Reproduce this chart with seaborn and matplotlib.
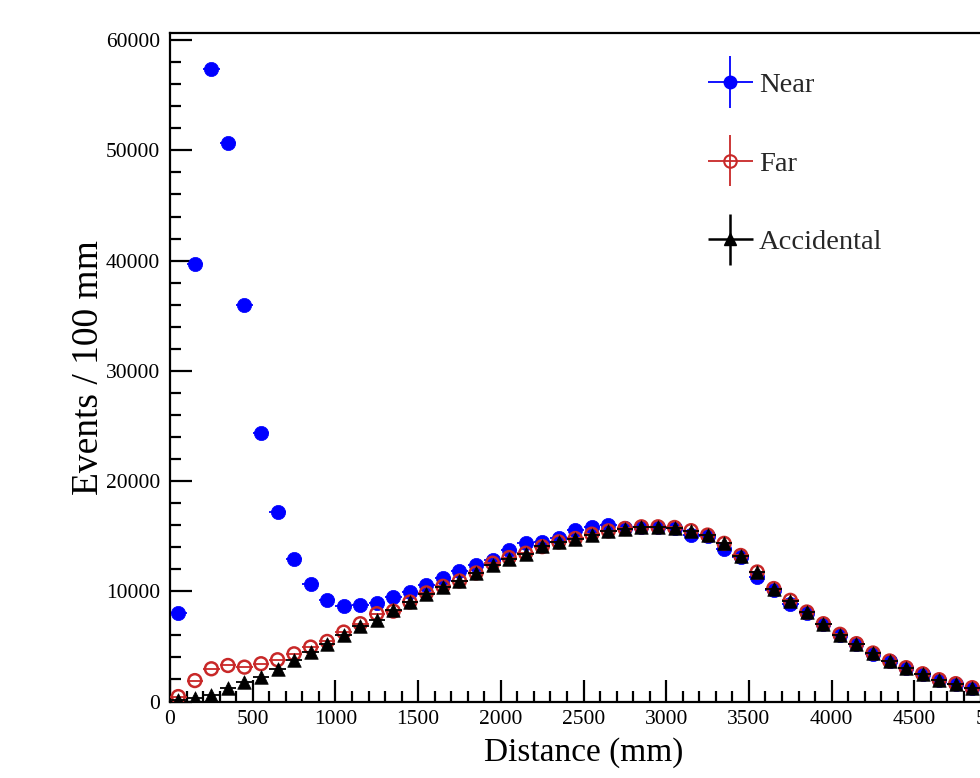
import numpy as np
import pandas as pd
import matplotlib
matplotlib.use("Agg")
import matplotlib.pyplot as plt
import seaborn as sns
from matplotlib.container import ErrorbarContainer
from matplotlib.legend_handler import HandlerErrorbar

distance = [50, 150, 250, 350, 450, 550, 650, 750, 850, 950,
            1050, 1150, 1250, 1350, 1450, 1550, 1650, 1750, 1850, 1950,
            2050, 2150, 2250, 2350, 2450, 2550, 2650, 2750, 2850, 2950,
            3050, 3150, 3250, 3350, 3450, 3550, 3650, 3750, 3850, 3950,
            4050, 4150, 4250, 4350, 4450, 4550, 4650, 4750, 4850, 4950]
bin_half_width = 50

near = [8000, 39700, 57400, 50700, 35950, 24350, 17220, 12930, 10630, 9210,
        8690, 8750, 8960, 9450, 9960, 10570, 11200, 11860, 12380, 12880,
        13750, 14400, 14500, 14800, 15550, 15850, 16000, 15750, 15850, 15850,
        15750, 15090, 15000, 13880, 13150, 11300, 10150, 8880, 8050, 7000,
        6050, 5200, 4350, 3650, 3050, 2500, 1950, 1600, 1250, 950]
far = [450, 1900, 2970, 3270, 3120, 3430, 3790, 4330, 4940, 5450,
       6300, 7060, 7970, 8200, 9030, 9850, 10450, 10940, 11660, 12550,
       13060, 13450, 14050, 14480, 14790, 15180, 15480, 15700, 15850, 15850,
       15790, 15500, 15100, 14350, 13250, 11750, 10250, 9180, 8120, 7060,
       6100, 5250, 4400, 3680, 3070, 2520, 1980, 1620, 1260, 980]
accidental = [100, 300, 550, 1250, 1750, 2270, 2970, 3730, 4480, 5240,
              6000, 6820, 7360, 8270, 9030, 9790, 10390, 10940, 11660, 12400,
              12970, 13420, 14090, 14450, 14760, 15150, 15450, 15680, 15820, 15840,
              15780, 15480, 15080, 14350, 13230, 11720, 10220, 9150, 8100, 7040,
              6080, 5230, 4380, 3660, 3050, 2500, 1960, 1600, 1240, 970]

series_names = ["Near", "Far", "Accidental"]
x_ticks = [0, 500, 1000, 1500, 2000, 2500, 3000, 3500, 4000, 4500, 5000]
y_ticks = [0, 10000, 20000, 30000, 40000, 50000, 60000]

sns.set_theme(style="ticks")
plt.rcParams["font.family"] = ["Liberation Serif", "DejaVu Serif"]

df = pd.DataFrame({"distance": distance, "Near": near, "Far": far,
                   "Accidental": accidental})

fig = plt.figure(figsize=(9.8, 7.78), dpi=100)
ax = fig.add_axes([0.1735, 0.0983, 0.8439, 0.8593])

blue = "#0000ff"
red = "#c82828"
black = "#000000"

# horizontal (bin width) error bars
ax.errorbar(df["distance"], df["Near"], xerr=bin_half_width, fmt="none",
            ecolor=blue, elinewidth=1.3, zorder=2)
sns.scatterplot(data=df, x="distance", y="Near", ax=ax, color=blue,
                marker="o", s=105, edgecolor=blue, linewidth=0.5, zorder=3,
                legend=False)
ax.errorbar(df["distance"], df["Far"], xerr=bin_half_width, fmt="none",
            ecolor=red, elinewidth=1.3, zorder=4)
sns.scatterplot(data=df, x="distance", y="Far", ax=ax, marker="o", s=85,
                facecolors="none", edgecolor=red, linewidth=1.8, zorder=5,
                legend=False)
ax.errorbar(df["distance"], df["Accidental"], xerr=bin_half_width, fmt="none",
            ecolor=black, elinewidth=1.3, zorder=6)
sns.scatterplot(data=df, x="distance", y="Accidental", ax=ax, color=black,
                marker="^", s=95, edgecolor=black, linewidth=0.5, zorder=7,
                legend=False)

ax.set_xlim(0, 5000)
ax.set_ylim(0, 60650)
ax.set_xticks(x_ticks)
ax.set_yticks(y_ticks)
ax.set_xticklabels([str(t) for t in x_ticks])
ax.set_yticklabels([str(t) for t in y_ticks])
ax.xaxis.set_minor_locator(matplotlib.ticker.MultipleLocator(100))
ax.yaxis.set_minor_locator(matplotlib.ticker.MultipleLocator(2000))
ax.tick_params(axis="both", which="major", direction="in", length=16,
               width=1.6, colors="black", labelsize=15.5)
ax.tick_params(axis="both", which="minor", direction="in", length=8,
               width=1.6, colors="black")
ax.tick_params(axis="y", which="major", pad=7)
ax.tick_params(axis="x", which="major", pad=6)
for side in ["left", "bottom", "top", "right"]:
    ax.spines[side].set_visible(True)
    ax.spines[side].set_color("black")
    ax.spines[side].set_linewidth(1.6)

ax.set_xlabel("Distance (mm)", fontsize=24, color="black")
ax.set_ylabel("Events / 100 mm", fontsize=27, color="black")
ax.xaxis.set_label_coords(0.5, -0.054)
ax.yaxis.set_label_coords(-0.077, 0.5)

# legend proxies drawn as error-bar crosses
h_near = ax.errorbar([], [], xerr=[], yerr=[], fmt="o", color=blue,
                     markersize=9, elinewidth=1.3, label="Near")
h_far = ax.errorbar([], [], xerr=[], yerr=[], fmt="o", color=red,
                    markerfacecolor="none", markeredgewidth=1.5,
                    markersize=9, elinewidth=1.3, label="Far")
h_acc = ax.errorbar([], [], xerr=[], yerr=[], fmt="^", color=black,
                    markersize=8, elinewidth=1.8, label="Accidental")
leg = ax.legend(handles=[h_near, h_far, h_acc], labels=series_names,
                loc="upper left", bbox_to_anchor=(0.619, 0.98),
                frameon=False, fontsize=20.5, labelspacing=1.85,
                handlelength=1.6, handletextpad=0.2,
                handler_map={ErrorbarContainer: HandlerErrorbar(xerr_size=0.8, yerr_size=0.9)})

fig.savefig("out.png", dpi=100, facecolor="white")
